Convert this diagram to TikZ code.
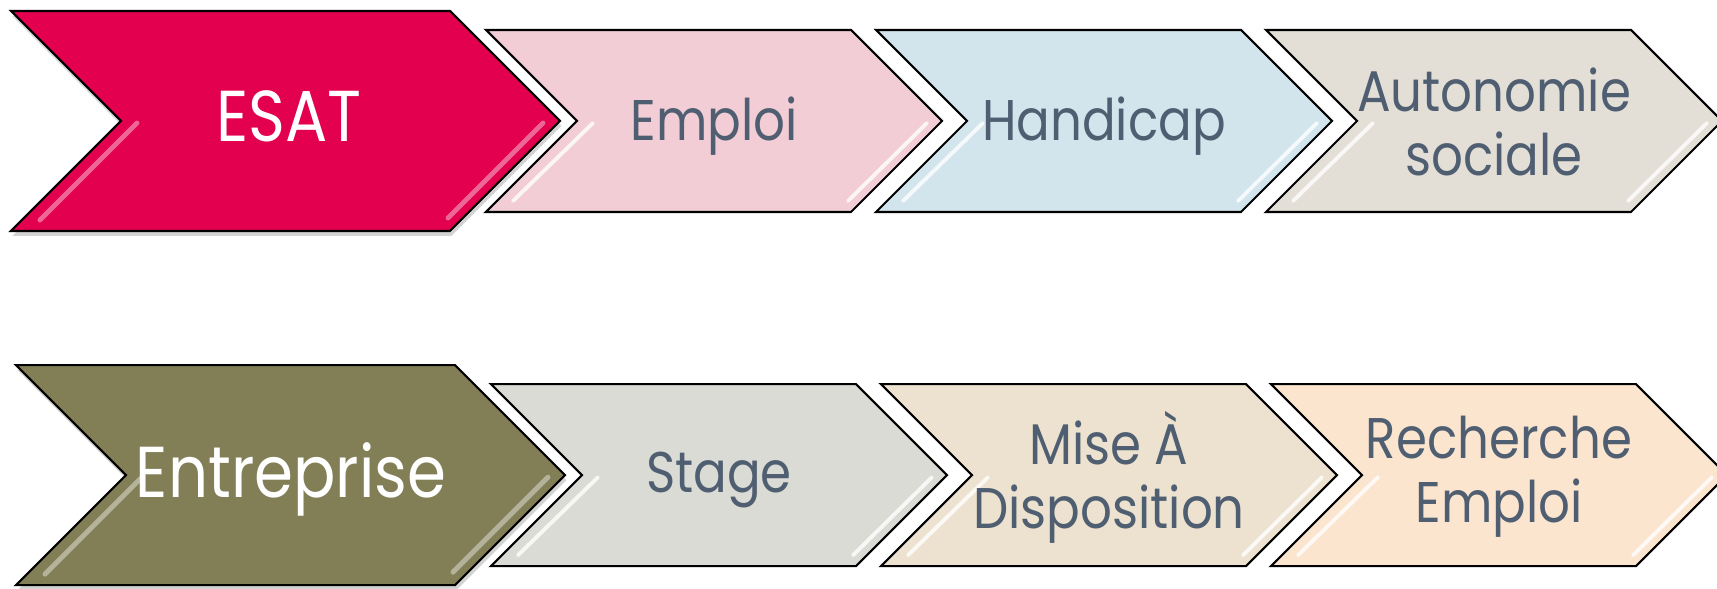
\documentclass[tikz,border=0pt]{standalone}
\usepackage{fontspec}
\setmainfont[FakeStretch=0.87]{Poppins}
\usetikzlibrary{shadows}

\definecolor{cesat}{HTML}{E2004F}
\definecolor{cemploi}{HTML}{F2CDD5}
\definecolor{chandicap}{HTML}{D2E4EC}
\definecolor{cautonomie}{HTML}{E3DFD6}
\definecolor{centreprise}{HTML}{827F57}
\definecolor{cstage}{HTML}{DBDBD5}
\definecolor{cmise}{HTML}{ECE2CF}
\definecolor{crecherche}{HTML}{FBE5CF}
\definecolor{slate}{HTML}{4F5F71}

\tikzset{
  chevron/.style={draw=black, line width=0.6pt, line join=miter},
  bigshadow/.style={drop shadow={opacity=0.35, shadow xshift=0.4pt, shadow yshift=-1.4pt}},
  shine/.style={white, line width=1.1pt, opacity=0.8, line cap=round},
  bigshine/.style={white, line width=1.4pt, opacity=0.4, line cap=round},
  biglbl/.style={text=white, anchor=base, font=\fontsize{20.5}{22}\selectfont},
  lbl/.style={text=slate, align=center, font=\fontsize{16.3}{18.2}\selectfont},
}

\begin{document}
\begin{tikzpicture}[x=0.01cm,y=-0.01cm]
  \useasboundingbox (0,0) rectangle (1717,589);
  \clip (0,0) rectangle (1717,589);

  % first row
  \path[chevron, bigshadow, fill=cesat] (11,11) -- ++(439,0) -- ++(110,110) -- ++(-110,110) -- ++(-439,0) -- ++(110,-110) -- cycle;
  \draw[bigshine] (137,123) -- (40,220);
  \draw[bigshine] (543,123) -- (448,218);
  \node[biglbl] (esat) at (289,142) {ESAT};
  \foreach[count=\i,evaluate={\l=486+390*(\i-1)}] \n/\y/\t in {emploi/126/Emploi,handicap/126/Handicap,autonomie/122/{Autonomie\\sociale}} {
    \path[chevron, fill=c\n] (\l,30) -- ++(365,0) -- ++(91,91) -- ++(-91,91) -- ++(-365,0) -- ++(91,-91) -- cycle;
    \draw[shine] (\l+107,123) -- (\l+27,201);
    \draw[shine] (\l+441,123) -- (\l+362,201);
    \node[lbl] (\n) at (\l+228,\y) {\t};
  }

  % second row
  \begin{scope}[yshift=-3.54cm,xshift=0.05cm]
    \path[chevron, bigshadow, fill=centreprise] (11,11) -- ++(439,0) -- ++(110,110) -- ++(-110,110) -- ++(-439,0) -- ++(110,-110) -- cycle;
    \draw[bigshine] (137,123) -- (40,220);
    \draw[bigshine] (543,123) -- (448,218);
    \node[biglbl] (entreprise) at (286,143) {Entreprise};
    \foreach[count=\i,evaluate={\l=486+390*(\i-1)}] \n/\y/\t in {stage/126/Stage,mise/123/{Mise À\\Disposition},recherche/123/{Recherche\\Emploi}} {
      \path[chevron, fill=c\n] (\l,30) -- ++(365,0) -- ++(91,91) -- ++(-91,91) -- ++(-365,0) -- ++(91,-91) -- cycle;
      \draw[shine] (\l+107,123) -- (\l+27,201);
      \draw[shine] (\l+441,123) -- (\l+362,201);
      \node[lbl] (\n) at (\l+228,\y) {\t};
    }
  \end{scope}
\end{tikzpicture}
\end{document}
